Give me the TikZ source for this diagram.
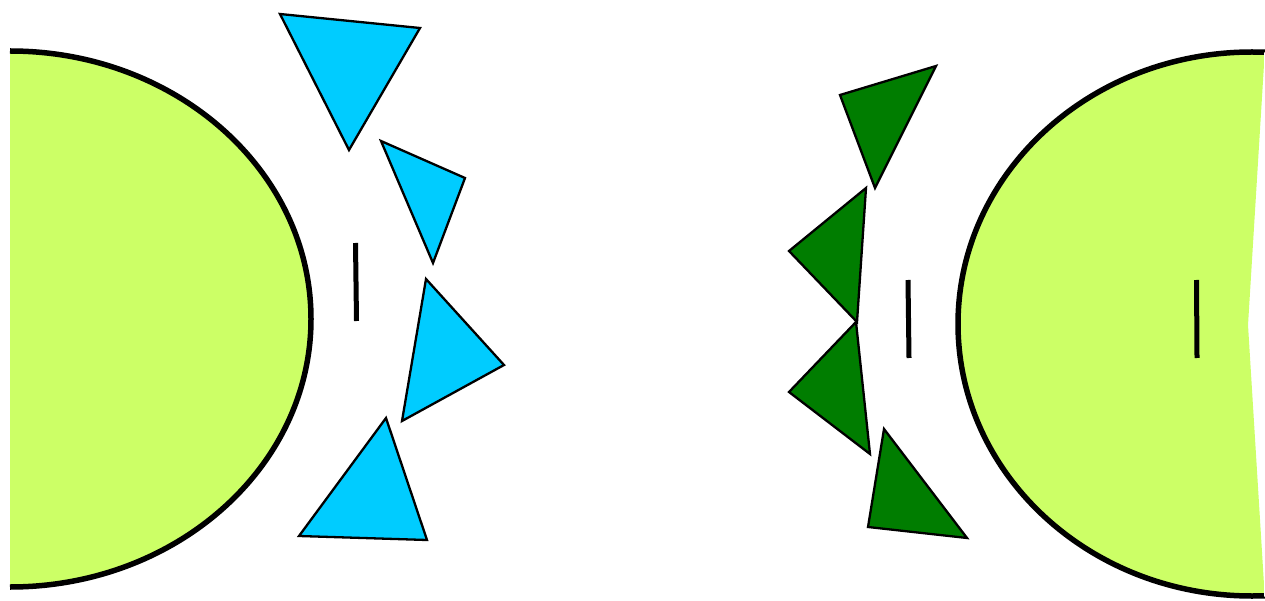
\documentclass[tikz,border=0pt]{standalone}
\usepackage{tikz}
\definecolor{lime}{RGB}{204,255,102}
\definecolor{sky}{RGB}{0,204,255}
\definecolor{leaf}{RGB}{0,125,0}
\begin{document}
\begin{tikzpicture}[x=1pt,y=-1pt,
  tri/.style={draw=black,line width=2.3pt,line join=miter},
  rim/.style={draw=black,line width=5.5pt},
  bar/.style={draw=black,line width=5pt}]
\useasboundingbox (0,0) rectangle (1265,601);
% left half ellipse
\fill[lime] (10,51) arc[start angle=-90,end angle=90,x radius=301,y radius=268] -- cycle;
\draw[rim] (10,51) arc[start angle=-90,end angle=90,x radius=301,y radius=268];
% right ellipse clipped
\begin{scope}
\clip (900,0) -- (1265,0) -- (1265,48) -- (1248,325) -- (1265,601) -- (900,601) -- cycle;
\fill[lime] (1252,324) ellipse[x radius=294,y radius=272];
\draw[rim] (1252,324) ellipse[x radius=294,y radius=272];
\end{scope}
% blue triangles
\draw[tri,fill=sky] (280,14) -- (420,28) -- (349,150) -- cycle;
\draw[tri,fill=sky] (381,141) -- (465,178) -- (433,263) -- cycle;
\draw[tri,fill=sky] (426,279) -- (504,365) -- (402,421) -- cycle;
\draw[tri,fill=sky] (386,418) -- (427,540) -- (299,536) -- cycle;
% green triangles
\draw[tri,fill=leaf] (840,95) -- (936,66) -- (875,188) -- cycle;
\draw[tri,fill=leaf] (866,188) -- (789,251) -- (857,322) -- cycle;
\draw[tri,fill=leaf] (856,322) -- (789,392) -- (870,454) -- cycle;
\draw[tri,fill=leaf] (884,429) -- (967,538) -- (868,527) -- cycle;
% bars
\coordinate (a1) at (355.5,243); \coordinate (a2) at (356.5,321);
\coordinate (b1) at (908,280); \coordinate (b2) at (909,358);
\coordinate (c1) at (1196.5,280); \coordinate (c2) at (1197,358);
\draw[bar] (a1) -- (a2);
\draw[bar] (b1) -- (b2);
\draw[bar] (c1) -- (c2);
\end{tikzpicture}
\end{document}
